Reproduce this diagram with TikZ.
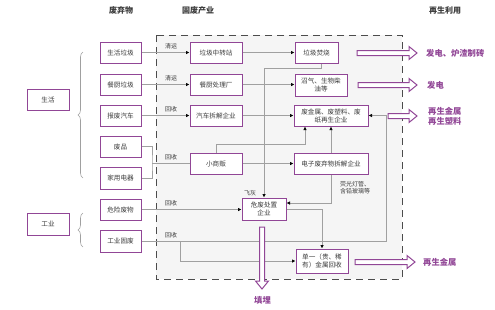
\documentclass[tikz,border=0pt]{standalone}
\usepackage{fontspec}
\setmainfont{Noto Sans CJK SC}
\usetikzlibrary{arrows.meta,decorations.pathreplacing,calc}
\definecolor{purp}{RGB}{145,70,150}
\definecolor{lgray}{RGB}{160,160,160}
\definecolor{txt}{RGB}{60,60,60}
\begin{document}
\begin{tikzpicture}[x=1pt,y=-1pt,
  box/.style={draw=purp,line width=1pt,fill=white,inner sep=0pt,text=txt,font=\fontsize{6.6}{8}\selectfont,align=center,minimum height=21pt},
  conn/.style={draw=lgray,line width=0.6pt},
  arr/.style={conn,-{Latex[length=3.5pt,width=3.5pt,black]}},
  lab/.style={text=txt,font=\fontsize{6}{7}\selectfont,inner sep=0pt},
  head/.style={text=txt,font=\bfseries\fontsize{8}{9.5}\selectfont,inner sep=0pt},
  outl/.style={text=purp,font=\bfseries\fontsize{8.3}{10}\selectfont,inner sep=0pt,anchor=west,align=left},
  hollow/.style={draw=purp,line width=1pt,fill=white},
  brc/.style={draw=lgray,line width=0.6pt,decorate,decoration={brace,amplitude=5pt}}]
\useasboundingbox (0,0) rectangle (495,309);
% industry region
\fill[gray!8] (156,35) rectangle (402,279);
\draw[black!70,line width=1pt,dash pattern=on 7pt off 5pt] (156,35) rectangle (402,279);
% headings
\node[head] (h1) at (121,10) {废弃物};
\node[head] (h2) at (198,10) {固废产业};
\node[head] (h3) at (445,10) {再生利用};
% left
\node[box,minimum width=42pt] (sh) at (48,99.5) {生活};
\node[box,minimum width=42pt,minimum height=22pt] (gy) at (48,224) {工业};
\draw[brc] (83,178) -- (83,52);
\draw[brc] (83,247) -- (83,213);
\node[box,minimum width=41pt] (a1) at (120.5,52.5) {生活垃圾};
\node[box,minimum width=41pt] (a2) at (120.5,84.5) {餐厨垃圾};
\node[box,minimum width=41pt] (a3) at (120.5,115.5) {报废汽车};
\node[box,minimum width=41pt] (a4) at (120.5,146.5) {废品};
\node[box,minimum width=41pt,minimum height=22pt] (a5) at (120.5,178) {家用电器};
\node[box,minimum width=41pt] (a6) at (120.5,209.5) {危险废物};
\node[box,minimum width=41pt,minimum height=22pt] (a7) at (120.5,241) {工业固废};
% middle
\node[box,minimum width=52pt] (b1) at (216,52.5) {垃圾中转站};
\node[box,minimum width=52pt] (b2) at (216,84.5) {餐厨处理厂};
\node[box,minimum width=52pt] (b3) at (216,115.5) {汽车拆解企业};
\node[box,minimum width=52pt] (b4) at (216,163.5) {小商贩};
\node[box,minimum width=44pt,minimum height=22pt] (b5) at (264,209) {危废处置\\企业};
% right
\node[box,minimum width=43pt] (c1) at (316.5,52.5) {垃圾焚烧};
\node[box,minimum width=52pt,minimum height=22pt] (c2) at (321,85) {沼气、生物柴\\油等};
\node[box,minimum width=74pt] (c3) at (331,115.5) {废金属、废塑料、废\\纸再生企业};
\node[box,minimum width=74pt] (c4) at (331,163.5) {电子废弃物拆解企业};
\node[box,minimum width=52pt,minimum height=24pt] (c5) at (322,261) {单一（贵、稀\\有）金属回收};
% connectors from waste
\draw[arr] (a1) -- (b1);
\draw[arr] (a2) -- (b2);
\draw[arr] (a3) -- (b3);
\coordinate (m1) at (152,163.5);
\draw[conn] (a4.east) -| (m1) |- (a5.east);
\draw[conn] (m1) -- (b4.west);
\draw[arr] (a6.east) -- (a6.east -| b5.west);
\coordinate (g1) at (386,241);
\coordinate (g2) at (180,241);
\draw[arr] (a7.east) -- (g1) |- (c3.east);
\draw[arr] (g2) |- (c5.west);
\node[lab] (l1) at (171,46) {清运};
\node[lab] (l2) at (171,78) {清运};
\node[lab] (l3) at (171,109) {回收};
\node[lab] (l4) at (171,157) {回收};
\node[lab] (l5) at (171,203) {回收};
\node[lab] (l6) at (171,235) {回收};
% internal flows
\draw[arr] (b1) -- (c1);
\draw[arr] (b2.east) -- (b2.east -| c2.west);
\draw[arr] (b3) -- (c3);
\draw[arr] (b4) -- (b4 -| c4.west);
\coordinate (f1) at (321,68);
\draw[arr] (c1.south -| f1) -- (f1) -| (b5.north);
\node[lab] (l7) at (250,193) {飞灰};
\coordinate (s1) at (305,144);
\draw[arr] (b4.north -| 216,0) |- (s1) -- (s1 |- c3.south);
\draw[arr] (c4.north) -- (c3.south -| c4.north);
\coordinate (e1) at (331,203);
\draw[arr] (c4.south) -- (e1) -- (e1 -| b5.east);
\coordinate (d1) at (322,209);
\draw[arr] (b5.east |- d1) -- (d1) -- (c5.north);
\node[lab,anchor=west,align=left] (l8) at (340,187.5) {荧光灯管、\\含铅玻璃等};
% output arrows
\draw[hollow] (357,50.5) -- (409,50.5) -- (409,46.5) -- (417,53) -- (409,59.5) -- (409,55.5) -- (357,55.5) -- cycle;
\draw[hollow] (358,82.5) -- (409,82.5) -- (409,78.5) -- (417,85) -- (409,91.5) -- (409,87.5) -- (358,87.5) -- cycle;
\draw[hollow] (388,113.5) -- (409,113.5) -- (409,109.5) -- (417,116) -- (409,122.5) -- (409,118.5) -- (388,118.5) -- cycle;
\draw[hollow] (355,259.5) -- (407,259.5) -- (407,255.5) -- (415,262) -- (407,268.5) -- (407,264.5) -- (355,264.5) -- cycle;
\draw[hollow] (259.5,227) -- (259.5,281) -- (255.5,281) -- (262,289) -- (268.5,281) -- (264.5,281) -- (264.5,227) -- cycle;
\node[outl] (o1) at (426,53) {发电、炉渣制砖};
\node[outl] (o2) at (427,85) {发电};
\node[outl] (o3) at (428,116) {再生金属\\再生塑料};
\node[outl] (o4) at (423,262) {再生金属};
\node[outl] (o5) at (254,300) {填埋};
\end{tikzpicture}
\end{document}
